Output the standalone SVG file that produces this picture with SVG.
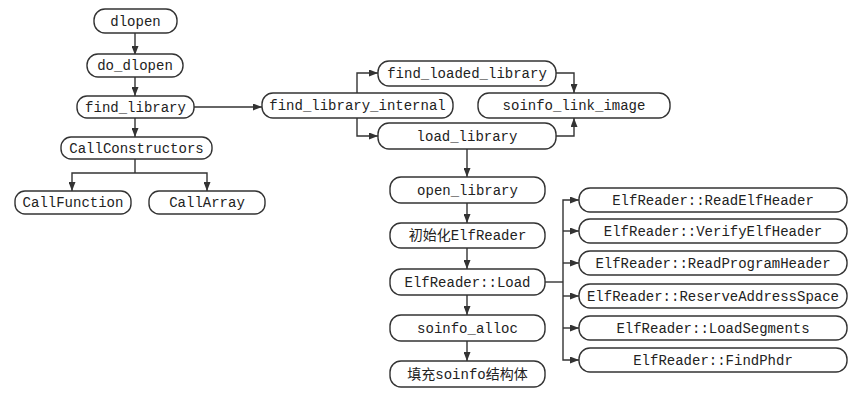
<svg xmlns="http://www.w3.org/2000/svg" width="865" height="400" viewBox="0 0 865 400">
<defs>
<marker id="ah" markerWidth="9" markerHeight="7" refX="9" refY="3.5" orient="auto" markerUnits="userSpaceOnUse">
<path d="M0,0 L9,3.5 L0,7 Z" fill="#333"/>
</marker>
<style>
.n rect{fill:#fff;stroke:#333;stroke-width:1.4}
.n text{font-family:"Liberation Mono","Noto Sans CJK SC",monospace;font-size:14px;fill:#222;text-anchor:middle}
.c path{fill:none;stroke:#333;stroke-width:1.4;marker-end:url(#ah)}
.c path.nm{marker-end:none}
</style>
</defs>
<rect width="865" height="400" fill="#fff"/>
<g class="c">
<path d="M135,33 V55"/>
<path d="M135,77 V96"/>
<path d="M135,118 V137"/>
<path class="nm" d="M135,159 V173"/>
<path d="M135,173 H72 V191"/>
<path d="M135,173 H207 V191"/>
<path d="M194,107 H262"/>
<path d="M357,93 V73 H378"/>
<path d="M357,118 V136 H378"/>
<path d="M556,73 H574 V93"/>
<path d="M556,136 H574 V118"/>
<path d="M467,149 V177"/>
<path d="M467,203 V223"/>
<path d="M467,248 V269"/>
<path d="M467,295 V315"/>
<path d="M467,341 V361"/>
<path class="nm" d="M545,282 H563"/>
<path d="M563,282 V200 H579"/>
<path d="M563,231 H579"/>
<path d="M563,263 H579"/>
<path d="M563,296 H579"/>
<path d="M563,328 H579"/>
<path d="M563,282 V360 H579"/>
</g>
<g id="dlopen" class="n"><rect x="94" y="9" width="83" height="24" rx="11"/><text x="135.5" y="26">dlopen</text></g>
<g id="do_dlopen" class="n"><rect x="87" y="54" width="96" height="23" rx="11"/><text x="135" y="70">do_dlopen</text></g>
<g id="find_library" class="n"><rect x="77" y="96" width="117" height="22" rx="10"/><text x="135.5" y="112">find_library</text></g>
<g id="CallConstructors" class="n"><rect x="61" y="137" width="151" height="22" rx="10"/><text x="136.5" y="153">CallConstructors</text></g>
<g id="CallFunction" class="n"><rect x="15" y="191" width="116" height="23" rx="10"/><text x="73" y="207">CallFunction</text></g>
<g id="CallArray" class="n"><rect x="149" y="191" width="116" height="23" rx="10"/><text x="207" y="207">CallArray</text></g>
<g id="find_library_internal" class="n"><rect x="262" y="93" width="191" height="25" rx="11"/><text x="357.5" y="110">find_library_internal</text></g>
<g id="find_loaded_library" class="n"><rect x="378" y="61" width="178" height="25" rx="11"/><text x="467" y="78">find_loaded_library</text></g>
<g id="load_library" class="n"><rect x="378" y="123" width="178" height="26" rx="11"/><text x="467" y="141">load_library</text></g>
<g id="soinfo_link_image" class="n"><rect x="478" y="93" width="192" height="25" rx="11"/><text x="574" y="110">soinfo_link_image</text></g>
<g id="open_library" class="n"><rect x="390" y="177" width="155" height="26" rx="11"/><text x="467.5" y="195">open_library</text></g>
<g id="init_ElfReader" class="n"><rect x="390" y="223" width="155" height="25" rx="11"/><text x="467.5" y="240">初始化ElfReader</text></g>
<g id="ElfReader_Load" class="n"><rect x="390" y="269" width="155" height="26" rx="11"/><text x="467.5" y="287">ElfReader::Load</text></g>
<g id="soinfo_alloc" class="n"><rect x="390" y="315" width="155" height="26" rx="11"/><text x="467.5" y="333">soinfo_alloc</text></g>
<g id="fill_soinfo" class="n"><rect x="390" y="361" width="155" height="26" rx="11"/><text x="467.5" y="379">填充soinfo结构体</text></g>
<g id="ReadElfHeader" class="n"><rect x="579" y="188" width="268" height="24" rx="11"/><text x="713" y="205">ElfReader::ReadElfHeader</text></g>
<g id="VerifyElfHeader" class="n"><rect x="579" y="219" width="268" height="24" rx="11"/><text x="713" y="236">ElfReader::VerifyElfHeader</text></g>
<g id="ReadProgramHeader" class="n"><rect x="579" y="251" width="268" height="24" rx="11"/><text x="713" y="268">ElfReader::ReadProgramHeader</text></g>
<g id="ReserveAddressSpace" class="n"><rect x="579" y="284" width="268" height="24" rx="11"/><text x="713" y="301">ElfReader::ReserveAddressSpace</text></g>
<g id="LoadSegments" class="n"><rect x="579" y="316" width="268" height="24" rx="11"/><text x="713" y="333">ElfReader::LoadSegments</text></g>
<g id="FindPhdr" class="n"><rect x="579" y="348" width="268" height="24" rx="11"/><text x="713" y="365">ElfReader::FindPhdr</text></g>
</svg>
